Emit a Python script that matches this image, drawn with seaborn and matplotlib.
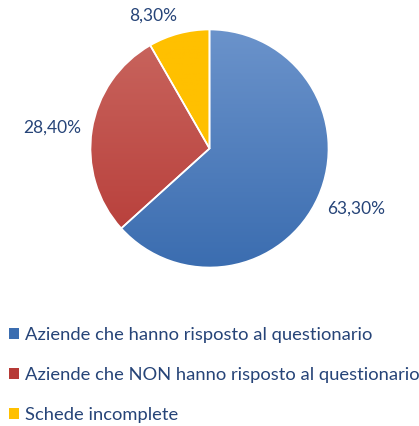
import numpy as np
import matplotlib
matplotlib.use('Agg')
import matplotlib.pyplot as plt
import matplotlib.colors as mcolors
from matplotlib.patches import Patch
import seaborn as sns

# Dati del grafico a torta
categorie = ['Aziende che hanno risposto al questionario',
             'Aziende che NON hanno risposto al questionario',
             'Schede incomplete']
percentuali = [63.3, 28.4, 8.3]
colori_alto = ['#6B93CB', '#C9665F', '#FFC000']
colori_basso = ['#3B6DB0', '#B63A36', '#FFC000']

sns.set_theme(style='white')
plt.rcParams['font.family'] = ['Lato', 'DejaVu Sans']
colore_testo = '#264478'

W, H = 419, 426
fig = plt.figure(figsize=(W / 100, H / 100), dpi=100)
fig.patch.set_facecolor('white')

# asse della torta: centro (209.5, 148.5) px, raggio 119 px
cx, cy, r = 209.5, 148.5, 119
ax = fig.add_axes([(cx - r) / W, (H - cy - r) / H, 2 * r / W, 2 * r / H])
ax.set_xlim(-1, 1)
ax.set_ylim(-1, 1)
ax.set_aspect('equal')
ax.axis('off')


def etichetta(p):
    return f'{p:.2f}%'.replace('.', ',')


wedges, testi, autotesti = ax.pie(
    percentuali, startangle=90, counterclock=False, radius=1,
    colors=colori_basso, autopct=etichetta, pctdistance=1.34,
    wedgeprops=dict(edgecolor='white', linewidth=1.2),
    textprops=dict(color=colore_testo, fontsize=12.5))

# sfumatura verticale dentro ogni spicchio
grad = np.linspace(0, 1, 256).reshape(-1, 1)
for w, c1, c2 in zip(wedges, colori_alto, colori_basso):
    cmap = mcolors.LinearSegmentedColormap.from_list('g', [c2, c1])
    im = ax.imshow(grad, cmap=cmap, extent=[-1, 1, -1, 1], origin='lower',
                   aspect='auto', zorder=w.get_zorder() - 0.01)
    im.set_clip_path(w)
    w.set_facecolor('none')
    w.set_zorder(w.get_zorder() + 0.5)
ax.set_xlim(-1, 1)
ax.set_ylim(-1, 1)

# etichette spostate come nell'originale
autotesti[0].set_position((1.33 * np.cos(np.deg2rad(-22.5)), 1.33 * np.sin(np.deg2rad(-22.5))))
autotesti[1].set_position((1.33 * np.cos(np.deg2rad(172.5)), 1.33 * np.sin(np.deg2rad(172.5))))
ang = np.deg2rad(113)
autotesti[2].set_position((1.21 * np.cos(ang), 1.21 * np.sin(ang)))

# legenda
handles = [Patch(facecolor=c, edgecolor='none') for c in colori_basso]
leg = fig.legend(handles, categorie, loc='upper left',
                 bbox_to_anchor=(9 / W, 1 - 327 / H), frameon=False,
                 fontsize=13.2, handlelength=0.55, handleheight=0.55,
                 handletextpad=0.35, labelspacing=1.3, borderpad=0,
                 borderaxespad=0)
for t in leg.get_texts():
    t.set_color(colore_testo)

fig.savefig('out.png', dpi=100, facecolor='white')
